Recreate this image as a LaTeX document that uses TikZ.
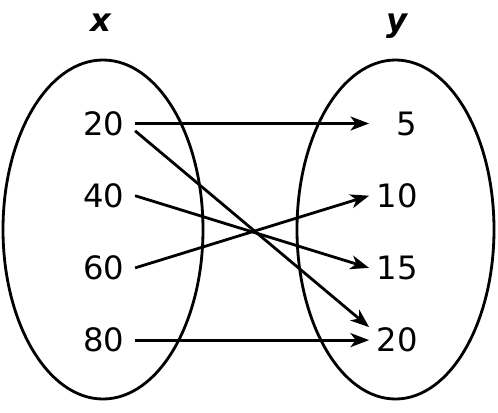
\documentclass[tikz,border=0pt]{standalone}
\usepackage{fontspec}
\setmainfont{DejaVu Sans}
\usetikzlibrary{positioning,arrows.meta}

\begin{document}
\begin{tikzpicture}[x=0.03cm,y=-0.03cm,->,>={Stealth[length=0.56cm,width=0.42cm,inset=0.16cm]},on grid,node distance=2.166cm and 8.805cm,line width=2.4pt,
    main node/.style={inner ysep=0pt,text width=1.2cm,align=right,font=\fontsize{27.5}{32}\selectfont},
    left node/.style={main node,inner xsep=0.32cm},
    right node/.style={main node,inner xsep=0.18cm},
    set label/.style={inner sep=0pt,text height=0.55em,text depth=0.22em,font=\fontsize{27.5}{32}\selectfont\bfseries\itshape}]
    \useasboundingbox (0,0) rectangle (498,412);
    \draw[-] (103,229.5) ellipse (100 and 169.5);
    \draw[-] (395.5,229.5) ellipse (98.5 and 169.5);

    \node[left node] (a20) at (103,123.5) {20};
    \node[left node] (a40) [below=of a20] {40};
    \node[left node] (a60) [below=of a40] {60};
    \node[left node] (a80) [below=of a60] {80};
    \node[right node] (b5) [right=of a20] {5};
    \node[right node] (b10) [below=of b5] {10};
    \node[right node] (b15) [below=of b10] {15};
    \node[right node] (b20) [below=of b15] {20};
    \node[set label] (xlab) [above=2.82cm of a20, xshift=-0.06cm] {x};
    \node[set label] (ylab) [above=2.82cm of b5] {y};

    \path
        (a20.east) edge (b5.west)
        ([yshift=-0.22cm]a20.east) edge ([yshift=0.39cm]b20.west)
        (a40.east) edge (b15.west)
        (a60.east) edge (b10.west)
        (a80.east) edge (b20.west)
        ;
\end{tikzpicture}
\end{document}
